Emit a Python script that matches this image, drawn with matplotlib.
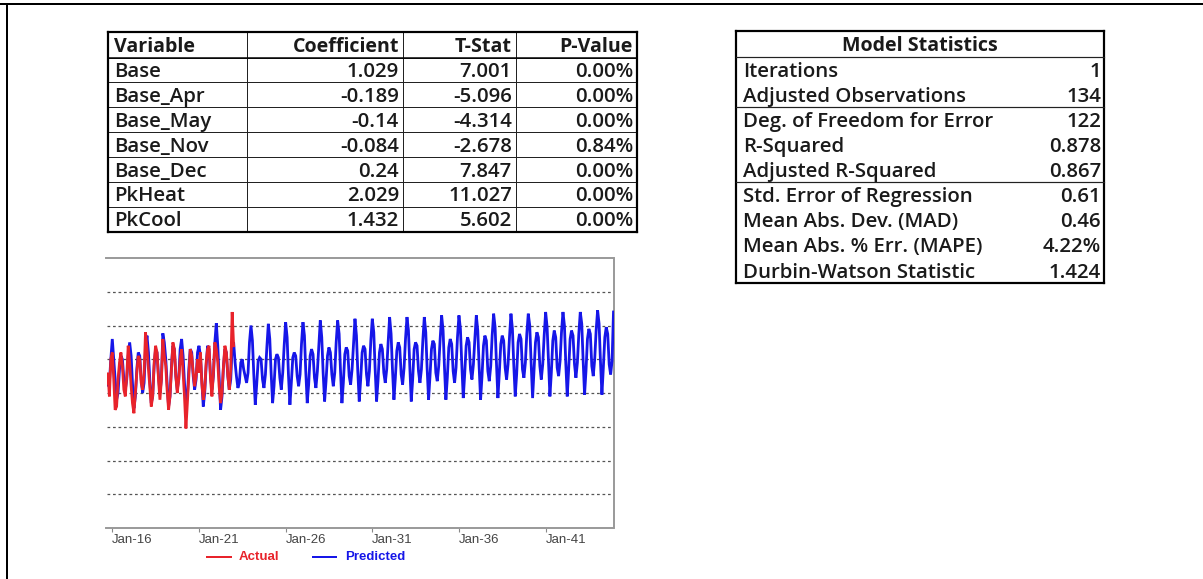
import matplotlib
matplotlib.use("Agg")
import matplotlib.pyplot as plt
from matplotlib.lines import Line2D
import pandas as pd

# ---------------- data ----------------
variables = ["Base", "Base_Apr", "Base_May", "Base_Nov", "Base_Dec", "PkHeat", "PkCool"]
coefficients = ["1.029", "-0.189", "-0.14", "-0.084", "0.24", "2.029", "1.432"]
t_stats = ["7.001", "-5.096", "-4.314", "-2.678", "7.847", "11.027", "5.602"]
p_values = ["0.00%", "0.00%", "0.00%", "0.84%", "0.00%", "0.00%", "0.00%"]
coef_headers = ["Variable", "Coefficient", "T-Stat", "P-Value"]

stat_title = "Model Statistics"
stat_names = ["Iterations", "Adjusted Observations", "Deg. of Freedom for Error",
              "R-Squared", "Adjusted R-Squared", "Std. Error of Regression",
              "Mean Abs. Dev. (MAD)", "Mean Abs. % Err. (MAPE)", "Durbin-Watson Statistic"]
stat_values = ["1", "134", "122", "0.878", "0.867", "0.61", "0.46", "4.22%", "1.424"]

dates = pd.date_range("2015-09-01", "2044-12-01", freq="MS")

actual = [
    4.3, 4.6, 3.9, 5.0,                                               # 2015 Sep-Dec
    5.2, 4.4, 3.5, 3.6, 4.4, 4.9, 5.2, 4.8, 4.1, 3.9, 4.5, 5.4,       # 2016
    4.9, 4.2, 3.7, 3.4, 4.0, 4.6, 5.1, 5.0, 4.3, 4.1, 4.6, 5.8,       # 2017
    5.3, 4.7, 4.2, 3.6, 3.9, 4.9, 5.4, 5.2, 4.4, 3.8, 4.4, 5.6,       # 2018
    5.1, 4.8, 4.1, 3.5, 3.9, 4.7, 5.5, 5.3, 4.5, 4.0, 4.4, 5.0,       # 2019
    5.3, 4.6, 3.9, 2.95, 3.7, 4.5, 5.3, 5.1, 4.6, 4.2, 4.5, 5.0,      # 2020
    4.6, 5.2, 4.3, 3.8, 4.1, 4.9, 5.3, 5.4, 4.4, 3.9, 4.6, 5.5,       # 2021
    5.3, 4.9, 4.2, 3.7, 4.0, 4.8, 5.4, 5.2, 4.5, 4.1, 4.7, 6.4,       # 2022
    5.4,                                                              # 2023 Jan
]

predicted = [
    4.5, 4.2, 4.3, 5.0,                                               # 2015 Sep-Dec
    5.6, 5.0, 4.4, 3.8, 4.0, 4.7, 5.1, 5.0, 4.4, 4.1, 4.4, 5.1,       # 2016
    5.5, 5.1, 4.3, 3.55, 3.9, 4.7, 5.2, 5.1, 4.4, 4.0, 4.3, 5.3,      # 2017
    5.7, 5.2, 4.4, 3.7, 3.9, 4.8, 5.3, 5.2, 4.5, 4.0, 4.4, 5.77,      # 2018
    5.5, 5.0, 4.3, 3.6, 3.9, 4.8, 5.4, 5.3, 4.5, 4.1, 4.4, 5.3,       # 2019
    5.6, 5.1, 4.3, 3.65, 3.9, 4.7, 5.3, 5.2, 4.5, 4.1, 4.4, 5.2,      # 2020
    5.4, 5.1, 4.4, 3.6, 4.0, 4.8, 5.4, 5.3, 4.5, 4.1, 4.5, 5.5,       # 2021
    6.07, 5.4, 4.5, 3.5, 3.9, 4.8, 5.3, 5.2, 4.5, 4.1, 4.4, 5.4,      # 2022
    5.5, 4.9, 4.5, 4.15, 4.3, 4.9, 5.0, 4.7, 4.5, 4.3, 4.6, 5.5,      # 2023
    6.00, 5.55, 4.55, 3.65, 4.25, 4.95, 5.05, 5.00, 4.40, 4.15, 4.55, 5.35,  # 2024
    6.05, 5.60, 4.60, 3.70, 4.20, 5.00, 5.15, 5.05, 4.45, 4.10, 4.60, 5.40,  # 2025
    6.10, 5.65, 4.55, 3.65, 4.30, 5.05, 5.20, 5.10, 4.50, 4.20, 4.55, 5.45,  # 2026
    6.10, 5.70, 4.65, 3.70, 4.25, 5.10, 5.30, 5.15, 4.45, 4.15, 4.65, 5.40,  # 2027
    6.15, 5.65, 4.60, 3.75, 4.35, 5.10, 5.35, 5.20, 4.55, 4.20, 4.60, 5.50,  # 2028
    6.15, 5.75, 4.70, 3.70, 4.30, 5.15, 5.35, 5.25, 4.50, 4.25, 4.70, 5.45,  # 2029
    6.20, 5.70, 4.65, 3.75, 4.40, 5.20, 5.40, 5.30, 4.55, 4.20, 4.65, 5.55,  # 2030
    6.20, 5.80, 4.75, 3.75, 4.35, 5.20, 5.45, 5.30, 4.60, 4.30, 4.70, 5.50,  # 2031
    6.25, 5.75, 4.70, 3.80, 4.45, 5.25, 5.50, 5.35, 4.55, 4.25, 4.75, 5.60,  # 2032
    6.25, 5.85, 4.80, 3.75, 4.40, 5.30, 5.50, 5.40, 4.65, 4.30, 4.70, 5.55,  # 2033
    6.25, 5.80, 4.75, 3.80, 4.50, 5.30, 5.55, 5.45, 4.60, 4.35, 4.80, 5.60,  # 2034
    6.30, 5.85, 4.80, 3.80, 4.45, 5.35, 5.60, 5.45, 4.65, 4.30, 4.75, 5.65,  # 2035
    6.30, 5.90, 4.85, 3.85, 4.55, 5.40, 5.65, 5.50, 4.70, 4.40, 4.85, 5.60,  # 2036
    6.30, 5.85, 4.80, 3.80, 4.50, 5.40, 5.70, 5.55, 4.65, 4.35, 4.80, 5.70,  # 2037
    6.35, 5.95, 4.90, 3.85, 4.60, 5.45, 5.70, 5.55, 4.75, 4.40, 4.85, 5.65,  # 2038
    6.35, 5.90, 4.85, 3.90, 4.55, 5.50, 5.75, 5.60, 4.70, 4.45, 4.90, 5.75,  # 2039
    6.35, 6.00, 4.90, 3.85, 4.65, 5.50, 5.80, 5.65, 4.80, 4.40, 4.85, 5.70,  # 2040
    6.40, 5.95, 4.95, 3.90, 4.60, 5.55, 5.85, 5.65, 4.75, 4.50, 4.95, 5.80,  # 2041
    6.40, 6.00, 4.90, 3.90, 4.70, 5.60, 5.85, 5.70, 4.85, 4.45, 4.90, 5.75,  # 2042
    6.40, 6.05, 5.00, 3.95, 4.65, 5.60, 5.90, 5.75, 4.80, 4.50, 5.00, 5.85,  # 2043
    6.45, 6.05, 4.95, 3.95, 4.75, 5.65, 5.95, 5.75, 4.85, 4.55, 4.95, 6.40,  # 2044
]

tick_years = [2016, 2021, 2026, 2031, 2036, 2041]
tick_labels = ["Jan-16", "Jan-21", "Jan-26", "Jan-31", "Jan-36", "Jan-41"]
legend_labels = ["Actual", "Predicted"]

# ---------------- figure ----------------
W, H = 1203, 579
fig = plt.figure(figsize=(W / 100, H / 100), dpi=100)
fig.patch.set_facecolor("white")


def fx(x):
    return x / W


def fy(y):
    return 1 - y / H


def hline(x0, x1, y, lw, color="black"):
    fig.add_artist(Line2D([fx(x0), fx(x1)], [fy(y), fy(y)], lw=lw, color=color,
                          solid_capstyle="projecting"))


def vline(x, y0, y1, lw, color="black"):
    fig.add_artist(Line2D([fx(x), fx(x)], [fy(y0), fy(y1)], lw=lw, color=color,
                          solid_capstyle="projecting"))


PX = 72 / 100  # points per pixel

# outer frame (top & left)
hline(0, W, 3.5, 2 * PX)
vline(7, 3.5, H, 2 * PX)

# ---- fit table fonts ----
TFONT = ["Open Sans", "DejaVu Sans"]
renderer = fig.canvas.get_renderer()
REG_W = "semibold"


def fit(text, target, weight):
    t = fig.text(0, 0, text, fontsize=10, family=TFONT, weight=weight)
    w = t.get_window_extent(renderer).width
    t.remove()
    return 10 * target / w


fs_reg = fit("Adjusted Observations", 223, REG_W)
fs_bold = fit("Model Statistics", 156, "bold")
TXT = "#1a1a1a"


def cell_text(x, yc, s, ha, fs, weight=REG_W):
    fpx = fs / PX
    fig.text(fx(x), fy(yc + 0.36 * fpx), s, ha=ha, va="baseline", fontsize=fs,
             family=TFONT, weight=weight, color=TXT)


# ---- coefficient table ----
cx = [108, 247, 403, 516, 637]
cy = [32, 57.5, 82, 107, 132, 157, 181.5, 206.5, 231.5]
for y in cy[1:-1]:
    hline(cx[0], cx[-1], y, 1.0 * PX, "#222222")
for x in cx[1:-1]:
    vline(x, cy[0], cy[-1], 1.0 * PX, "#222222")
hline(cx[0], cx[-1], cy[0], 2.2 * PX)
hline(cx[0], cx[-1], cy[-1], 2.2 * PX)
vline(cx[0], cy[0], cy[-1], 2.2 * PX)
vline(cx[-1], cy[0], cy[-1], 2.2 * PX)
hline(cx[0], cx[-1], cy[1], 1.5 * PX)

hc = (cy[0] + cy[1]) / 2
cell_text(cx[0] + 6, hc, coef_headers[0], "left", fs_bold, "bold")
for j in range(1, 4):
    cell_text(cx[j + 1] - 4, hc, coef_headers[j], "right", fs_bold, "bold")
for i, (v, c, t, p) in enumerate(zip(variables, coefficients, t_stats, p_values)):
    yc = (cy[i + 1] + cy[i + 2]) / 2
    cell_text(cx[0] + 6, yc, v, "left", fs_reg)
    cell_text(cx[2] - 4, yc, c, "right", fs_reg)
    cell_text(cx[3] - 4, yc, t, "right", fs_reg)
    cell_text(cx[4] - 4, yc, p, "right", fs_reg)

# ---- model statistics table ----
sx0, sx1 = 736, 1104
sy = [31, 57, 82, 107, 132, 157, 182, 207, 232, 257.5, 283]
hline(sx0, sx1, sy[0], 2.2 * PX)
hline(sx0, sx1, sy[-1], 2.2 * PX)
vline(sx0, sy[0], sy[-1], 2.2 * PX)
vline(sx1, sy[0], sy[-1], 2.2 * PX)
for k in (1, 3, 6):
    hline(sx0, sx1, sy[k], 1.2 * PX, "#222222")
cell_text((sx0 + sx1) / 2, (sy[0] + sy[1]) / 2, stat_title, "center", fs_bold, "bold")
for i, (n, v) in enumerate(zip(stat_names, stat_values)):
    yc = (sy[i + 1] + sy[i + 2]) / 2
    cell_text(sx0 + 7, yc, n, "left", fs_reg)
    cell_text(sx1 - 3, yc, v, "right", fs_reg)

# ---------------- line chart ----------------
RED = "#e8232b"
BLUE = "#1616e8"
ax_l, ax_r, ax_t, ax_b = 106.5, 613.5, 258, 528
ax = fig.add_axes([fx(ax_l), fy(ax_b), (ax_r - ax_l) / W, (ax_b - ax_t) / H])
ax.set_facecolor("white")

ax.plot(dates, predicted, color=BLUE, lw=2.0, solid_joinstyle="miter", zorder=3)
ax.plot(dates[:len(actual)], actual, color=RED, lw=2.0, solid_joinstyle="miter", zorder=4)

ax.set_xlim(dates[0], dates[-1])
ax.set_ylim(0, 8)
ax.set_yticks(range(1, 8))
ax.tick_params(axis="y", left=False, labelleft=False)
ax.yaxis.grid(True, linestyle=(0, (2.2, 2.2)), color="#555555", lw=0.9)
ax.set_axisbelow(True)

ticks = [pd.Timestamp(f"{y}-01-01") for y in tick_years]
ax.set_xticks(ticks)
ax.set_xticklabels(tick_labels, ha="left", fontsize=9.5,
                   family=["Liberation Sans", "DejaVu Sans"], color="#444444")
ax.tick_params(axis="x", direction="out", length=3, width=0.8, color="#888888", pad=1.5)

for s in ("top", "right", "bottom"):
    ax.spines[s].set_color("#999999")
    ax.spines[s].set_linewidth(1.4)
ax.spines["left"].set_visible(False)

# legend below chart
ly = 557.3
for (x0, x1, xt, col, lab) in [(207, 230.5, 239, RED, legend_labels[0]),
                               (312.5, 336, 345, BLUE, legend_labels[1])]:
    hline(x0, x1, ly, 2.0 * PX, col)
    fig.text(fx(xt), fy(ly), lab, ha="left", va="center", fontsize=9.5,
             weight="bold", color=col, family=["Liberation Sans", "DejaVu Sans"])

fig.savefig("out.png", dpi=100)
